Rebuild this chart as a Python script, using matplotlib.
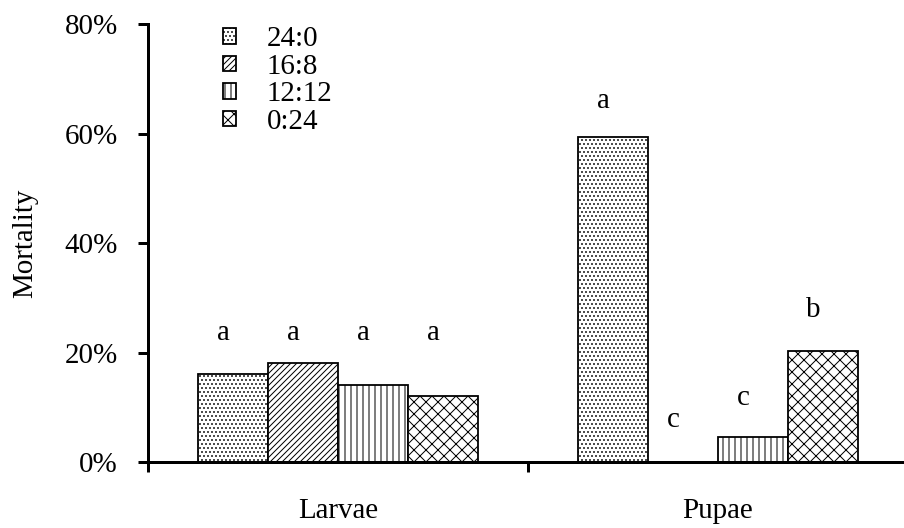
import numpy as np
import matplotlib
matplotlib.use("Agg")
from matplotlib import pyplot as plt
from matplotlib.ticker import PercentFormatter

stages = ["Larvae", "Pupae"]
photoperiods = ["24:0", "16:8", "12:12", "0:24"]
mortality = {
    "24:0": [0.16, 0.594],
    "16:8": [0.18, 0.0],
    "12:12": [0.14, 0.046],
    "0:24": [0.12, 0.203],
}
letters = {
    "24:0": ["a", "a"],
    "16:8": ["a", "c"],
    "12:12": ["a", "c"],
    "0:24": ["a", "b"],
}
letter_heights = {
    "24:0": [0.235, 0.66],
    "16:8": [0.235, 0.077],
    "12:12": [0.235, 0.117],
    "0:24": [0.235, 0.278],
}
hatches = ["...", "////", "||", "xx"]

plt.rcParams["font.family"] = ["Liberation Serif", "DejaVu Serif"]
plt.rcParams["hatch.linewidth"] = 1.0
fs = 29

fig = plt.figure(figsize=(904 / 72, 528 / 72), dpi=72)
ax = fig.add_axes([148 / 904, 0.125, 1 - 148 / 904, 0.8295])

x = np.arange(len(stages))
width = 0.184
for i, p in enumerate(photoperiods):
    pos = x + (i - 1.5) * width
    ax.bar(pos, mortality[p], width, color="white", edgecolor="black",
           linewidth=1.8, hatch=hatches[i], label=p)
    for j in range(len(stages)):
        ax.text(pos[j] - 0.025, letter_heights[p][j], letters[p][j],
                ha="center", va="center", fontsize=fs)

ax.set_xlim(-0.5, 1.4895)
ax.set_ylim(0, 0.8)
ax.set_yticks([0, 0.2, 0.4, 0.6, 0.8])
ax.yaxis.set_major_formatter(PercentFormatter(1.0, decimals=0))
ax.set_ylabel("Mortality", fontsize=fs, labelpad=26)

ax.set_xticks([-0.5, 0.5])
ax.set_xticklabels([])
ax.set_xticks(x, minor=True)
ax.set_xticklabels(stages, minor=True)
ax.tick_params(axis="x", which="minor", length=0, pad=36, labelsize=fs)
ax.tick_params(axis="x", which="major", direction="out", length=10, width=3)
ax.tick_params(axis="y", direction="out", length=10, width=3, pad=20, labelsize=fs)

for s in ["top", "right"]:
    ax.spines[s].set_visible(False)
ax.spines["left"].set_linewidth(3)
ax.spines["bottom"].set_linewidth(3)

ax.legend(loc="upper left", bbox_to_anchor=(0.065, 1.054), frameon=False,
          fontsize=fs, handlelength=0.45, handleheight=0.45,
          handletextpad=1.05, labelspacing=0.05)

fig.savefig("out.png", dpi=72)
